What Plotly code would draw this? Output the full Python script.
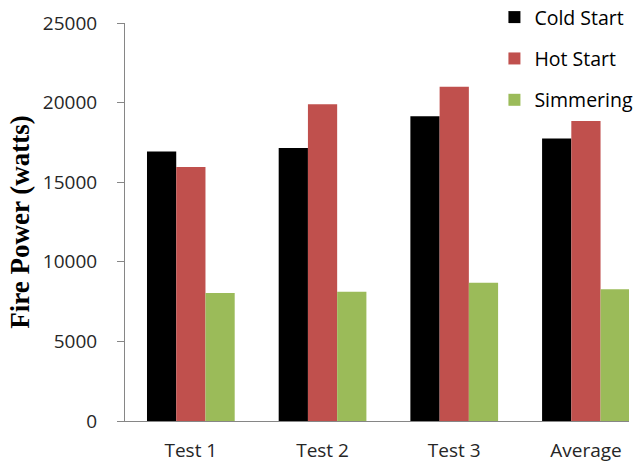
import plotly.graph_objects as go

# Fire power per test run and phase
categories = ["Test 1", "Test 2", "Test 3", "Average"]
cold_start = [16930, 17150, 19150, 17750]
hot_start = [15950, 19900, 21000, 18850]
simmering = [8040, 8120, 8690, 8280]

series = [
    ("Cold Start", cold_start, "#000000"),
    ("Hot Start", hot_start, "#C0504D"),
    ("Simmering", simmering, "#9BBB59"),
]

fig = go.Figure()
for i, (name, vals, color) in enumerate(series):
    fig.add_trace(go.Bar(
        x=categories, y=vals, name=name,
        marker=dict(color=color, line=dict(width=0)),
        legendgroup=f"g{i}",
    ))

axis_grey = "#868686"
tick_font = dict(family="Open Sans, Liberation Sans, sans-serif", size=19, color="#262626")

fig.update_layout(
    width=635, height=465,
    margin=dict(l=125, r=6, t=23, b=44, autoexpand=False),
    paper_bgcolor="white", plot_bgcolor="white",
    barmode="group", bargap=0.334, bargroupgap=0,
    showlegend=True,
    legend=dict(
        x=0.733, y=1.063, xanchor="left", yanchor="top",
        font=dict(family="Open Sans, Liberation Sans, sans-serif", size=19.5, color="#000000"),
        traceorder="grouped", tracegroupgap=13,
        bgcolor="rgba(0,0,0,0)",
    ),
    xaxis=dict(
        range=[-0.5, 3.327],
        showline=True, linecolor=axis_grey, linewidth=1,
        ticks="", showgrid=False, zeroline=False,
        tickfont=tick_font, ticklabelstandoff=12,
    ),
    yaxis=dict(
        range=[0, 25000], dtick=5000, tickformat="d",
        showline=True, linecolor=axis_grey, linewidth=1,
        ticks="outside", ticklen=7, tickcolor=axis_grey,
        showgrid=False, zeroline=False,
        tickfont=tick_font, ticklabelstandoff=16,
        title=dict(
            text="<b>Fire Power (watts)</b>",
            font=dict(family="Liberation Serif, Times New Roman, serif", size=27, color="#000000"),
            standoff=5,
        ),
    ),
)

fig.write_html("out.html")
